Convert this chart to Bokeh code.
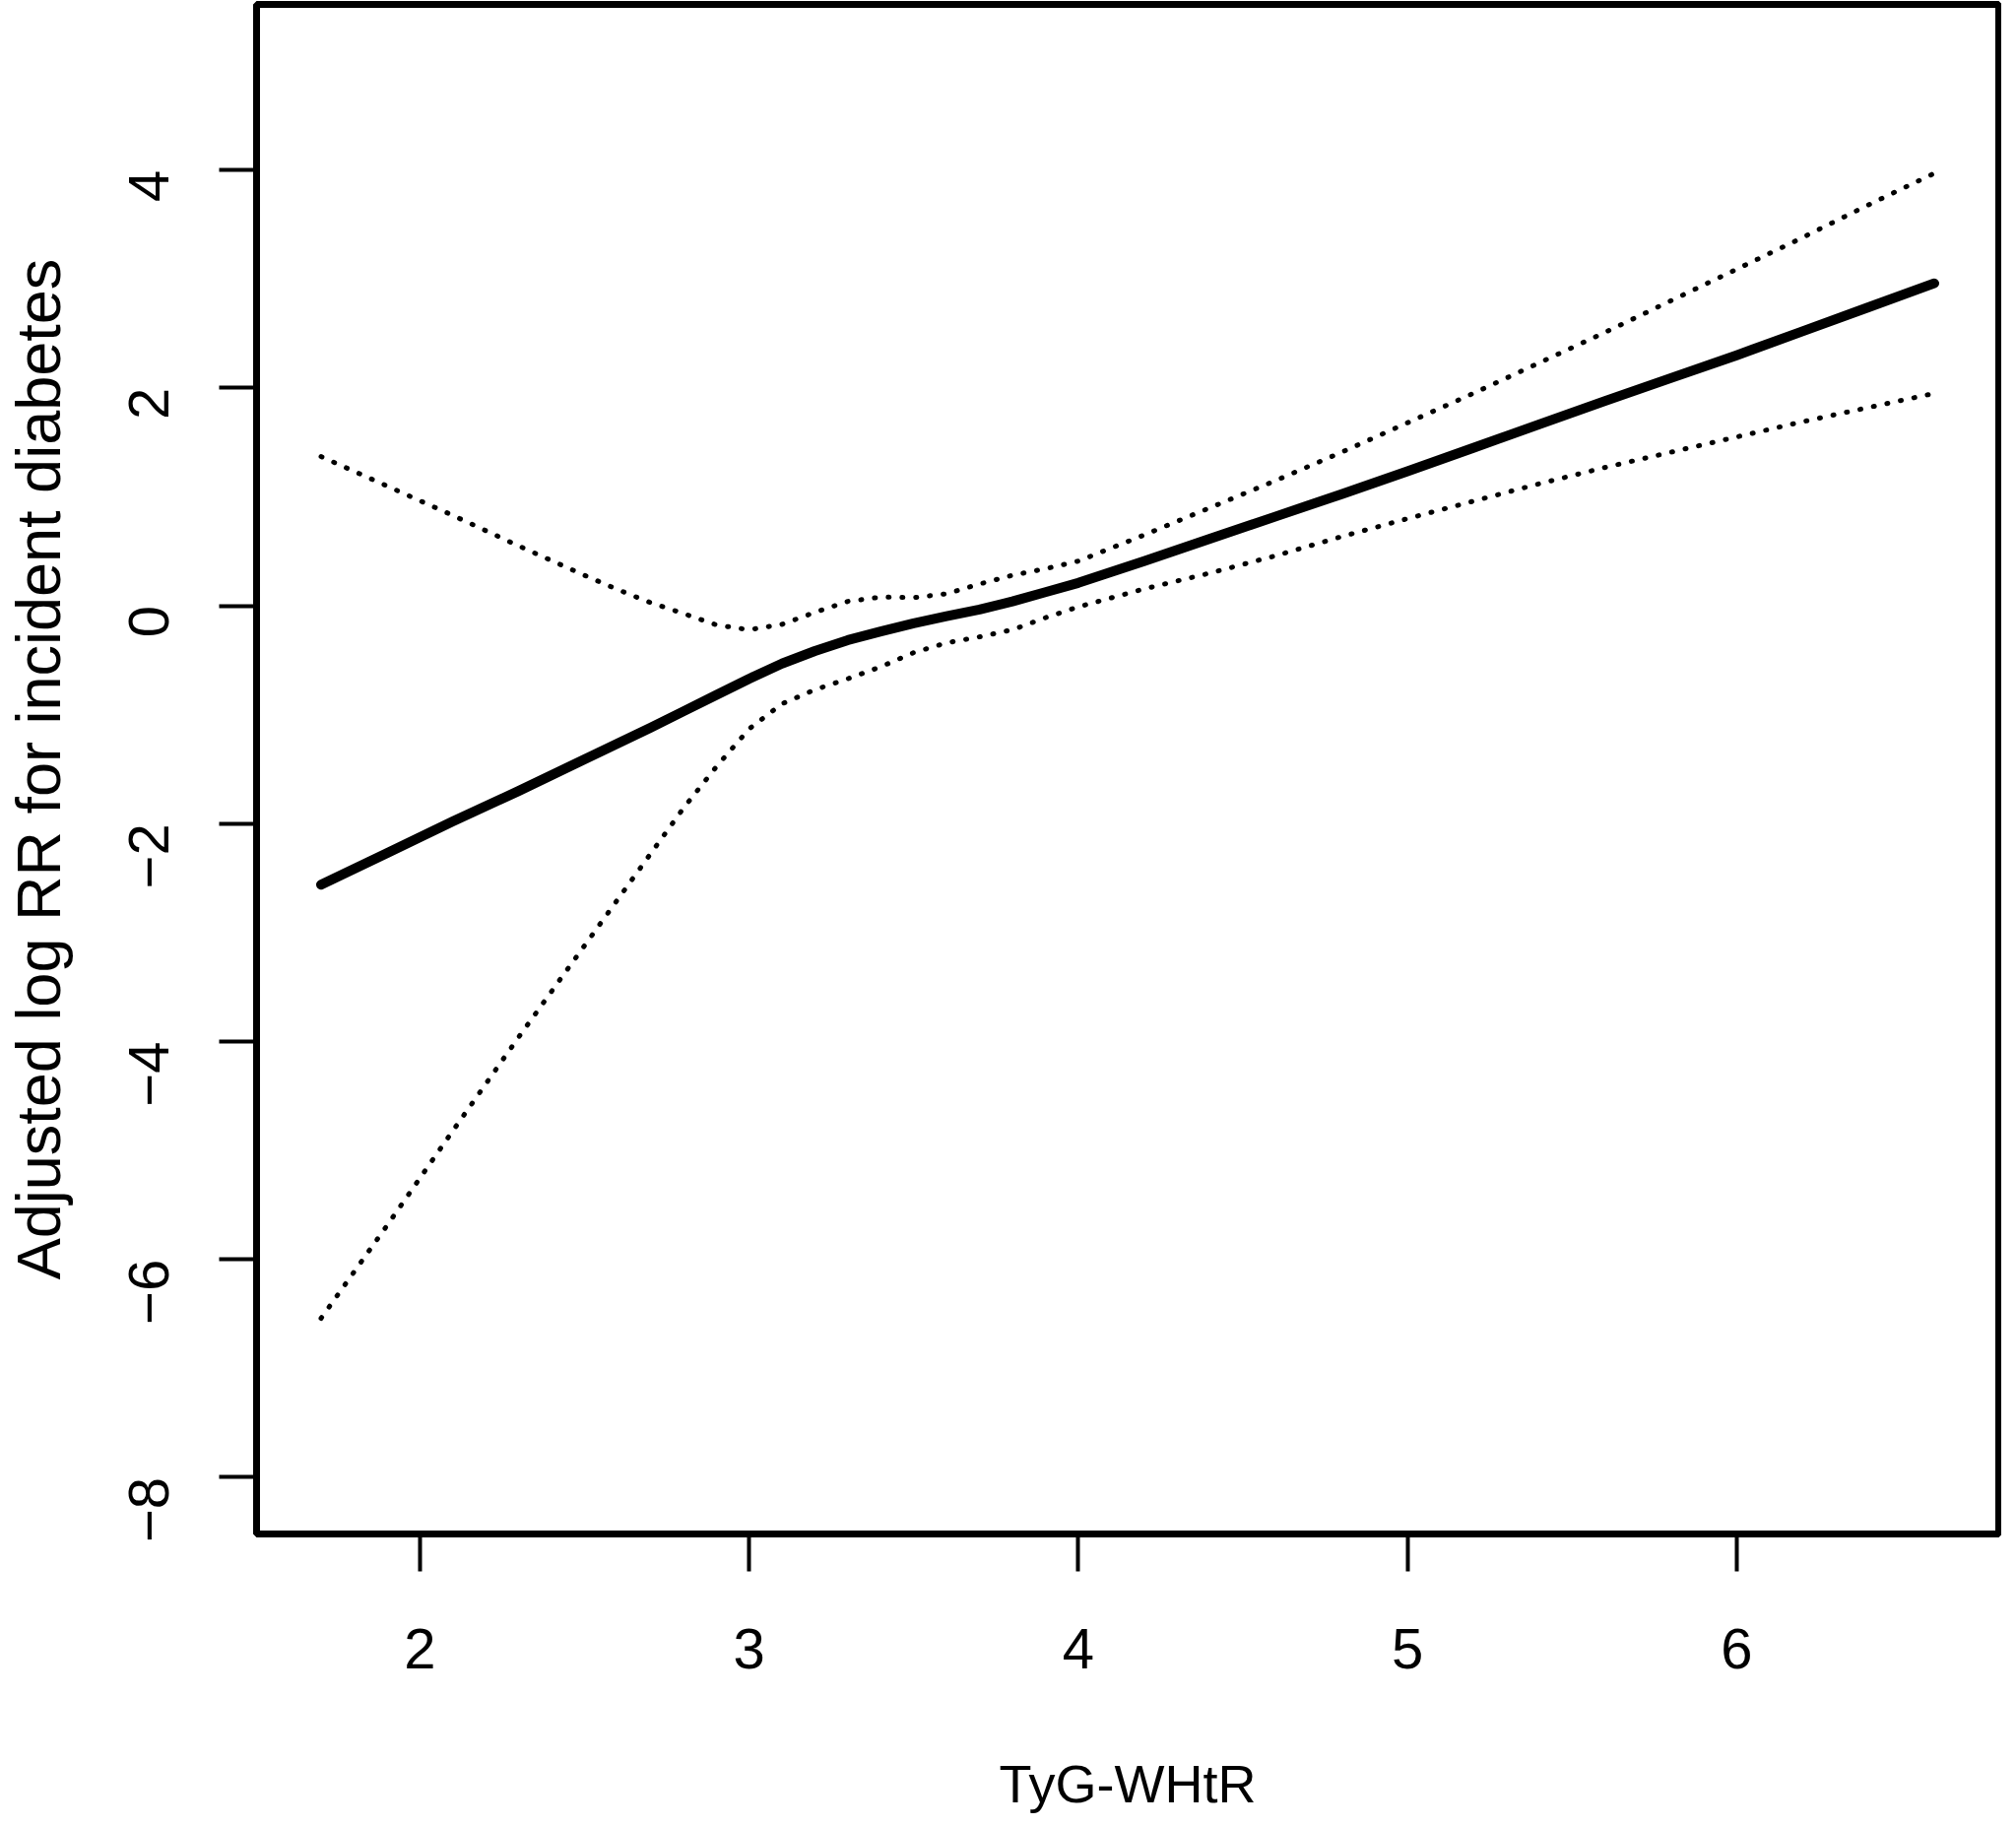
import math
from bokeh.plotting import figure
from bokeh.models import Range1d, FixedTicker
from bokeh.embed import file_html
from bokeh.resources import INLINE

# ---- data ----
tyg_whtr = [1.7, 1.9, 2.1, 2.3, 2.5, 2.6, 2.7, 2.8, 2.9, 3.0, 3.1, 3.2, 3.3, 3.4, 3.5,
            3.6, 3.7, 3.8, 3.9, 4.0, 4.2, 4.4, 4.6, 4.8, 5.0, 5.2, 5.4, 5.6, 5.8, 6.0,
            6.2, 6.4, 6.6]
log_rr = [-2.56, -2.27, -1.98, -1.70, -1.41, -1.265, -1.12, -0.97, -0.82, -0.67, -0.53,
          -0.415, -0.315, -0.235, -0.16, -0.095, -0.035, 0.04, 0.125, 0.21, 0.41, 0.615,
          0.82, 1.025, 1.235, 1.45, 1.665, 1.88, 2.09, 2.30, 2.52, 2.74, 2.96]
upper_ci = [1.37, 1.10, 0.83, 0.55, 0.28, 0.15, 0.03, -0.07, -0.175, -0.22, -0.17, -0.06,
            0.04, 0.08, 0.075, 0.11, 0.20, 0.28, 0.34, 0.41, 0.65, 0.90, 1.15, 1.41, 1.68,
            1.95, 2.23, 2.51, 2.80, 3.09, 3.38, 3.68, 3.97]
lower_ci = [-6.54, -5.69, -4.82, -3.96, -3.12, -2.70, -2.28, -1.86, -1.48, -1.13, -0.90,
            -0.77, -0.67, -0.56, -0.43, -0.34, -0.285, -0.22, -0.11, -0.01, 0.155, 0.30,
            0.46, 0.635, 0.80, 0.96, 1.12, 1.27, 1.41, 1.55, 1.69, 1.82, 1.95]

x_ticks = [2, 3, 4, 5, 6]
y_ticks = [-8, -6, -4, -2, 0, 2, 4]
x_title = "TyG-WHtR"
y_title = "Adjusted log RR for incident diabetes"

FONT = "Liberation Sans"

p = figure(
    frame_width=1769, frame_height=1553,
    min_border_left=259, min_border_right=3, min_border_top=4, min_border_bottom=293,
    x_range=Range1d(1.504, 6.796), y_range=Range1d(-8.52, 5.52),
    output_backend="svg", toolbar_location=None,
)
p.background_fill_color = "white"
p.border_fill_color = "white"
p.outline_line_color = "black"
p.outline_line_width = 7
p.xgrid.visible = False
p.ygrid.visible = False

p.line(tyg_whtr, upper_ci, line_color="black", line_width=5, line_dash="1 13", line_cap="round")
p.line(tyg_whtr, lower_ci, line_color="black", line_width=5, line_dash="1 13", line_cap="round")
p.line(tyg_whtr, log_rr, line_color="black", line_width=10, line_cap="round", line_join="round")

for ax in (p.xaxis[0], p.yaxis[0]):
    ax.axis_line_color = None
    ax.major_tick_line_color = "black"
    ax.major_tick_line_width = 4
    ax.major_tick_out = 38
    ax.major_tick_in = 0
    ax.minor_tick_line_color = None
    ax.major_label_text_font = FONT
    ax.major_label_text_color = "black"
    ax.axis_label_text_font = FONT
    ax.axis_label_text_font_style = "normal"
    ax.axis_label_text_color = "black"

p.xaxis.ticker = FixedTicker(ticks=x_ticks)
p.yaxis.ticker = FixedTicker(ticks=y_ticks)
p.xaxis.axis_label = x_title
p.yaxis.axis_label = y_title

p.xaxis.major_label_text_font_size = "58px"
p.xaxis.major_label_standoff = 58
p.xaxis.axis_label_text_font_size = "54px"
p.xaxis.axis_label_standoff = 84

p.yaxis.major_label_text_font_size = "58px"
p.yaxis.major_label_orientation = math.pi / 2
p.yaxis.major_label_standoff = 71
p.yaxis.axis_label_text_font_size = "63px"
p.yaxis.axis_label_standoff = 35

open("out.html", "w").write(file_html(p, INLINE))
